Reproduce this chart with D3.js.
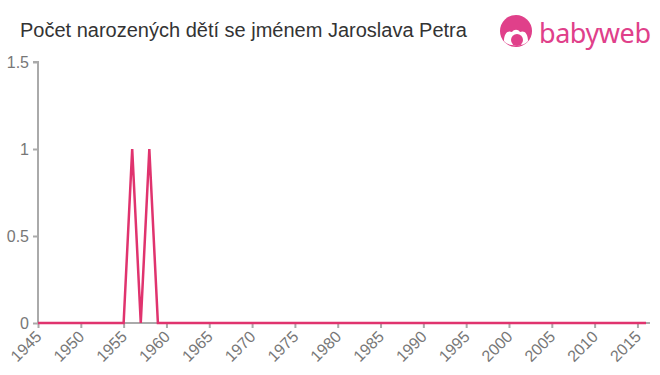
<!DOCTYPE html>
<html>
<head>
<meta charset="utf-8">
<script src="https://d3js.org/d3.v7.min.js"></script>
<style>
  body { margin: 0; background: #fff; }
  svg { display: block; font-family: "Liberation Sans", Arial, sans-serif; }
  .axis text { font-size: 16px; fill: #777; font-family: "Liberation Sans", Arial, sans-serif; }
</style>
</head>
<body>
<svg width="660" height="375"></svg>
<script>
// data
var years = d3.range(1945, 2017);
var counts = years.map(function(y) { return (y === 1956 || y === 1958) ? 1 : 0; });
var yTicks = [0, 0.5, 1, 1.5];
var xTicks = d3.range(1945, 2016, 5);

var title = "Počet narozených dětí se jménem Jaroslava Petra";
var pink = "#e0336e";

var svg = d3.select("svg");

var x = d3.scaleLinear().domain([1945, 2016]).range([38, 646]);
var y = d3.scaleLinear().domain([0, 1.5]).range([323, 62]);

// title
svg.append("text")
  .attr("x", 20).attr("y", 37)
  .attr("font-size", 20)
  .attr("fill", "#333")
  .text(title);

// axes
var yAxis = svg.append("g").attr("class", "axis")
  .attr("transform", "translate(38,0)")
  .call(d3.axisLeft(y).tickValues(yTicks).tickSize(5).tickPadding(4)
        .tickFormat(function(d) { return d; }));

var xAxis = svg.append("g").attr("class", "axis")
  .attr("transform", "translate(0,323)")
  .call(d3.axisBottom(x).tickValues(xTicks).tickSize(5).tickFormat(d3.format("d")));

[xAxis, yAxis].forEach(function(a) {
  a.attr("font-size", null);
  a.select(".domain").attr("stroke", "#aaa").attr("stroke-width", 2);
  a.selectAll(".tick line").attr("stroke", "#aaa").attr("stroke-width", 2);
});
yAxis.select(".domain").attr("d", "M-5,62H0V323");
xAxis.select(".domain").attr("d", "M38,0H650");

xAxis.selectAll("text")
  .attr("text-anchor", "end")
  .attr("transform", "rotate(-45)")
  .attr("dx", 0).attr("dy", "0.7em")
  .attr("x", -7.5).attr("y", 2);

// line
svg.append("path")
  .datum(years)
  .attr("fill", "none")
  .attr("stroke", pink)
  .attr("stroke-width", 2.5)
  .attr("d", d3.line()
    .x(function(d) { return x(d); })
    .y(function(d, i) { return y(counts[i]); }));

// babyweb logo
var logo = svg.append("g").attr("transform", "translate(516,31)");
logo.append("circle").attr("r", 16).attr("fill", "#e0408a");
logo.append("path")
  .attr("d", "M-12,10 C-12,2 -8,-1 -4,1 C-2,-2 2,-2 4,1 C8,-1 12,2 12,10 C8,16 -8,16 -12,10 Z")
  .attr("fill", "#fff");
logo.append("circle").attr("cx", 1).attr("cy", 9).attr("r", 6).attr("fill", "#e0408a");
svg.append("text")
  .attr("x", 539).attr("y", 43)
  .attr("font-size", 27)
  .attr("font-family", "Noto Sans, Open Sans, sans-serif")
  .attr("fill", "#e0408a")
  .attr("textLength", 112)
  .text("babyweb");
</script>
</body>
</html>
